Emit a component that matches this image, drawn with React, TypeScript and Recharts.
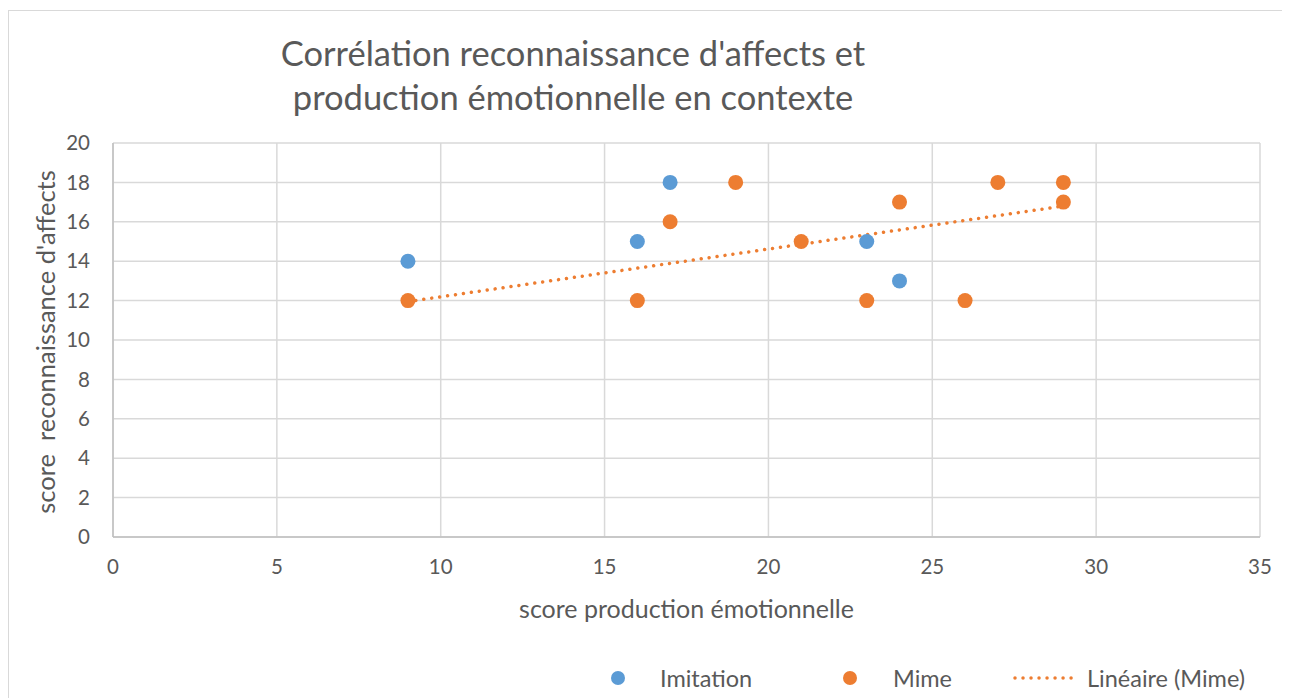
import {
  ScatterChart,
  Scatter,
  XAxis,
  YAxis,
  CartesianGrid,
  Legend,
  Label,
} from 'recharts';

const imitation = [
  { x: 9, y: 14 },
  { x: 16, y: 15 },
  { x: 17, y: 18 },
  { x: 23, y: 15 },
  { x: 24, y: 13 },
];

const mime = [
  { x: 9, y: 12 },
  { x: 16, y: 12 },
  { x: 17, y: 16 },
  { x: 19, y: 18 },
  { x: 21, y: 15 },
  { x: 23, y: 12 },
  { x: 24, y: 17 },
  { x: 26, y: 12 },
  { x: 27, y: 18 },
  { x: 29, y: 18 },
  { x: 29, y: 17 },
];

// linear trend of Mime, endpoints
const mimeTrend = [
  { x: 9, y: 11.95 },
  { x: 29, y: 16.8 },
];

const xTicks = [0, 5, 10, 15, 20, 25, 30, 35];
const yTicks = [0, 2, 4, 6, 8, 10, 12, 14, 16, 18, 20];

const BLUE = '#5b9bd5';
const ORANGE = '#ed7d31';
const TEXT = '#595959';
const FONT = 'Lato, sans-serif';

function Dot(color: string) {
  return (props: any) => (
    <circle cx={props.cx} cy={props.cy} r={7.5} fill={color} />
  );
}

function YTitle(props: any) {
  const { viewBox } = props;
  const x = 36;
  const y = viewBox.y + viewBox.height / 2 + 2;
  return (
    <text
      x={x}
      y={y}
      transform={`rotate(-90 ${x} ${y})`}
      textAnchor="middle"
      dominantBaseline="central"
      fill={TEXT}
      fontSize={25.5}
      fontFamily={FONT}
      style={{ whiteSpace: 'pre' }}
    >
      {'score  reconnaissance d\'affects'}
    </text>
  );
}

function XTitle(props: any) {
  const { viewBox } = props;
  return (
    <text
      x={viewBox.x + viewBox.width / 2}
      y={viewBox.y + 71}
      textAnchor="middle"
      dominantBaseline="central"
      fill={TEXT}
      fontSize={25}
      fontFamily={FONT}
    >
      score production émotionnelle
    </text>
  );
}

function LegendBox() {
  const item: React.CSSProperties = {
    position: 'absolute',
    top: 0,
    fontSize: 23.5,
    color: TEXT,
    fontFamily: FONT,
    lineHeight: '40px',
    whiteSpace: 'nowrap',
  };
  return (
    <div style={{ position: 'relative', width: 1280, height: 40 }}>
      <svg style={{ position: 'absolute', left: 0, top: 0 }} width={1280} height={40}>
        <circle cx={609} cy={20} r={7} fill={BLUE} />
        <circle cx={841} cy={20} r={7} fill={ORANGE} />
        <line
          x1={1006}
          y1={20}
          x2={1069}
          y2={20}
          stroke={ORANGE}
          strokeWidth={3.5}
          strokeDasharray="0.01 8"
          strokeLinecap="round"
        />
      </svg>
      <span style={{ ...item, left: 651 }}>Imitation</span>
      <span style={{ ...item, left: 884 }}>Mime</span>
      <span style={{ ...item, left: 1078 }}>Linéaire (Mime)</span>
    </div>
  );
}

export default function App() {
  return (
    <div
      style={{
        position: 'relative',
        width: 1290,
        height: 700,
        border: '1px solid #d9d9d9',
        marginTop: 2,
        background: '#fff',
      }}
    >
      <div
        style={{
          position: 'absolute',
          left: 0,
          width: 1128,
          top: 20,
          textAlign: 'center',
          fontFamily: FONT,
          fontSize: 34.5,
          lineHeight: '44px',
          color: TEXT,
        }}
      >
        Corrélation reconnaissance d'affects et
        <br />
        production émotionnelle en contexte
      </div>
      <ScatterChart
        width={1280}
        height={690}
        margin={{ top: 132, right: 29, left: 20, bottom: 64 }}
      >
        <CartesianGrid stroke="#d9d9d9" strokeWidth={1.5} />
        <XAxis
          type="number"
          dataKey="x"
          domain={[0, 35]}
          ticks={xTicks}
          interval={0}
          height={60}
          tickSize={0}
          tickMargin={22}
          axisLine={{ stroke: '#bfbfbf', strokeWidth: 1.5 }}
          tick={{ fontSize: 20.5, fill: TEXT, fontFamily: FONT }}
        >
          <Label content={XTitle} />
        </XAxis>
        <YAxis
          type="number"
          dataKey="y"
          domain={[0, 20]}
          ticks={yTicks}
          interval={0}
          width={84}
          tickSize={0}
          tickMargin={23}
          axisLine={{ stroke: '#bfbfbf', strokeWidth: 1.5 }}
          tick={{ fontSize: 20.5, fill: TEXT, fontFamily: FONT }}
        >
          <Label content={YTitle} />
        </YAxis>
        <Legend
          verticalAlign="bottom"
          height={40}
          content={LegendBox}
          wrapperStyle={{ top: 647, left: 0, width: 1280 }}
        />
        <Scatter
          name="Linéaire (Mime)"
          data={mimeTrend}
          isAnimationActive={false}
          line={{
            stroke: ORANGE,
            strokeWidth: 3.5,
            strokeDasharray: '0.01 8',
            strokeLinecap: 'round',
          }}
          shape={() => <g />}
        />
        <Scatter
          name="Imitation"
          data={imitation}
          fill={BLUE}
          isAnimationActive={false}
          shape={Dot(BLUE)}
        />
        <Scatter
          name="Mime"
          data={mime}
          fill={ORANGE}
          isAnimationActive={false}
          shape={Dot(ORANGE)}
        />
      </ScatterChart>
    </div>
  );
}
